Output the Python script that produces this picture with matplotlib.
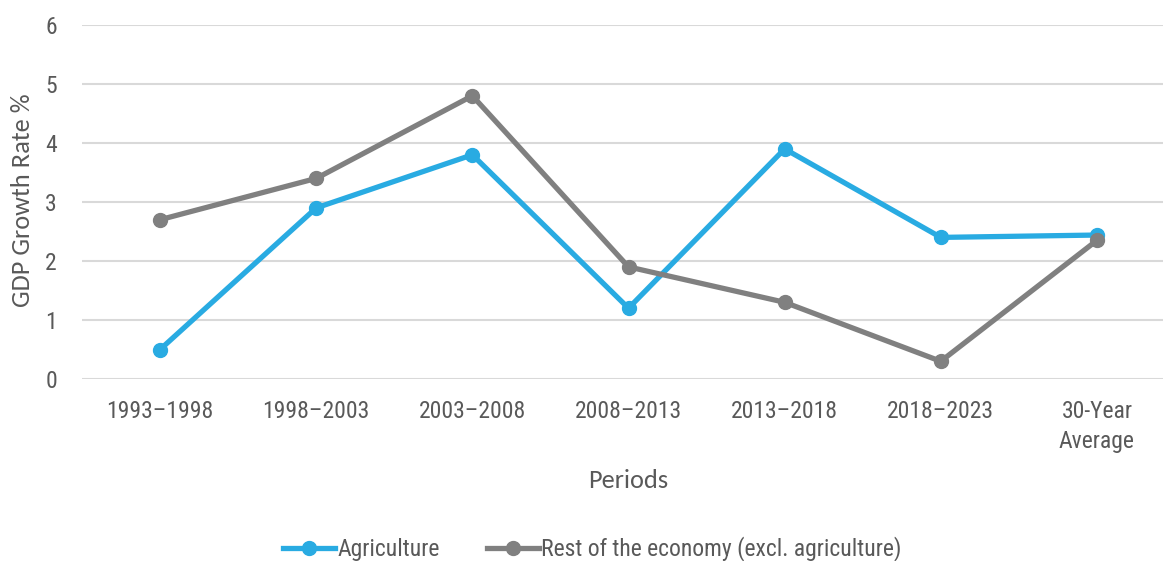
import matplotlib

matplotlib.use("Agg")
import matplotlib.pyplot as plt

periods = ["1993–1998", "1998–2003", "2003–2008", "2008–2013", "2013–2018", "2018–2023", "30-Year\nAverage"]
agriculture = [0.5, 2.9, 3.8, 1.2, 3.9, 2.4, 2.44]
rest_of_economy = [2.7, 3.4, 4.8, 1.9, 1.3, 0.3, 2.35]
y_ticks = [0, 1, 2, 3, 4, 5, 6]

tick_font = ["Roboto Condensed", "DejaVu Sans"]
label_font = ["Carlito", "DejaVu Sans"]
text_color = "#595959"

fig = plt.figure(figsize=(11.63, 5.61), dpi=100)
ax = fig.add_axes([82 / 1163, 1 - 379 / 561, (1175 - 82) / 1163, (379 - 25) / 561])

x = range(len(periods))
ax.plot(x, agriculture, color="#29ABE2", linewidth=3.8, marker="o", markersize=10, label="Agriculture", zorder=3)
ax.plot(x, rest_of_economy, color="#808080", linewidth=3.8, marker="o", markersize=10,
        label="Rest of the economy (excl. agriculture)", zorder=3)

ax.set_xlim(-0.5, len(periods) - 0.5)
ax.set_ylim(0, 6)
ax.set_yticks(y_ticks)
ax.set_xticks(list(x))
ax.set_xticklabels(periods, fontfamily=tick_font, fontsize=17, color=text_color, linespacing=1.4)
ax.set_yticklabels([str(v) for v in y_ticks], fontfamily=tick_font, fontsize=17, color=text_color)
ax.tick_params(axis="x", length=0, pad=15)
ax.tick_params(axis="y", length=0, pad=18)
ax.grid(axis="y", color="#d9d9d9", linewidth=1.5)
ax.set_axisbelow(True)
for spine in ax.spines.values():
    spine.set_visible(False)

fig.text(628 / 1163, 1 - 480 / 561, "Periods", ha="center", va="center",
         fontfamily=label_font, fontsize=19, color=text_color)
fig.text(23 / 1163, 1 - 200 / 561, "GDP Growth Rate %", ha="center", va="center", rotation=90,
         fontfamily=label_font, fontsize=19, color=text_color)

fig.legend(loc="center", bbox_to_anchor=(592 / 1163, 1 - 549 / 561), ncol=2, frameon=False,
           prop={"family": tick_font, "size": 17}, labelcolor=text_color, handlelength=2.2,
           handletextpad=0.1, columnspacing=2.0)

fig.savefig("out.png", dpi=100)
